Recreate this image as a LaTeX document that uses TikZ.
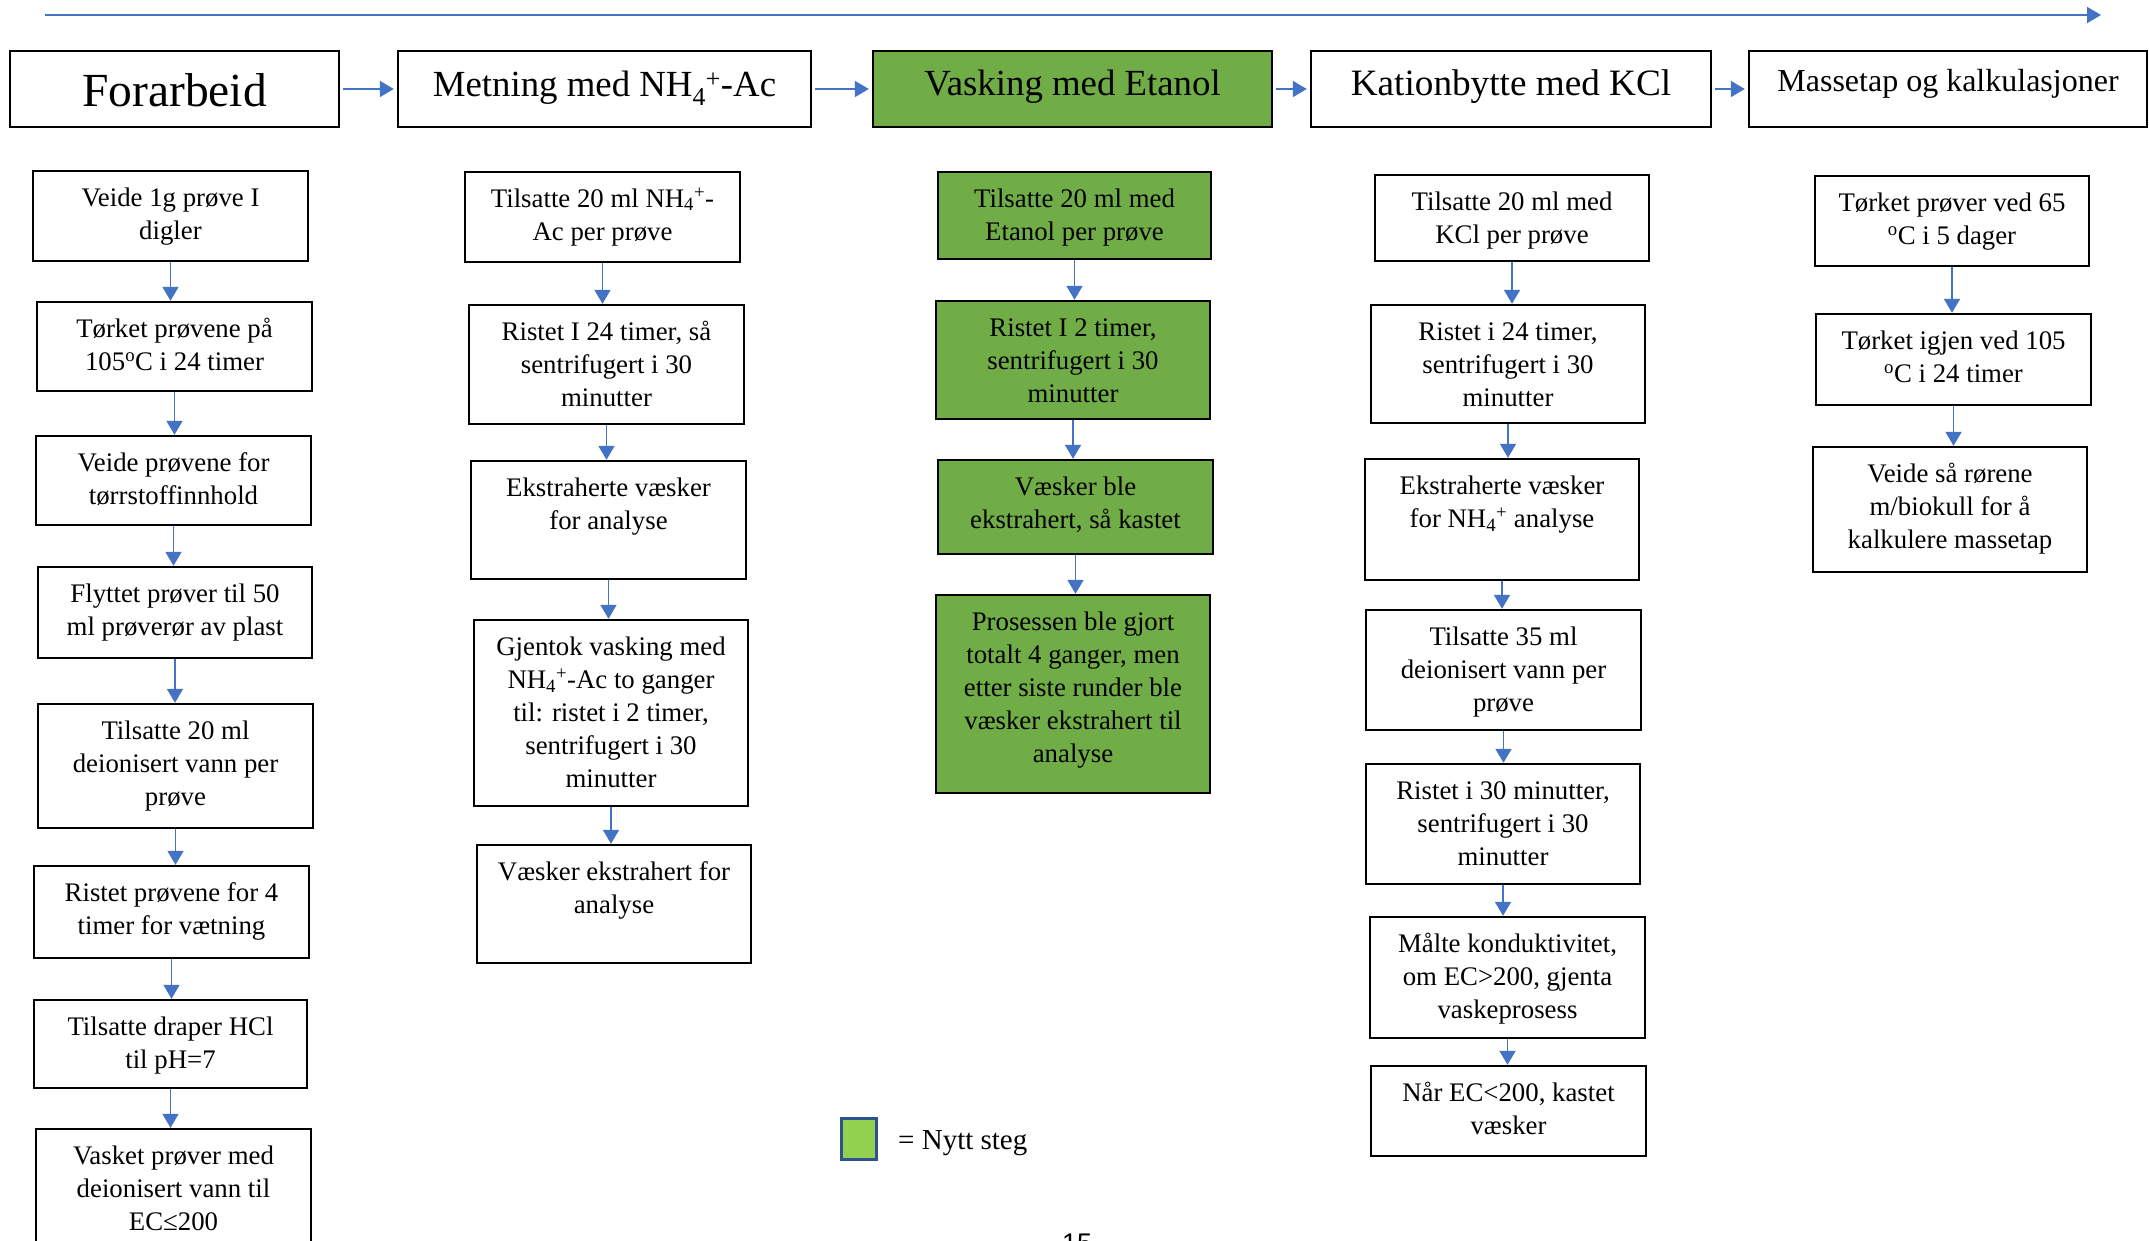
\documentclass[tikz,border=0pt]{standalone}
\usepackage{fontspec}
\setmainfont{Liberation Serif}
\newfontfamily\pgsans{Liberation Sans}
\usetikzlibrary{arrows.meta,fit}
\definecolor{arrowblue}{HTML}{4472C4}
\definecolor{stepgreen}{HTML}{70AD47}
\definecolor{leggreen}{HTML}{92D050}
\definecolor{legblue}{HTML}{2F528F}
\newcommand\stepnode[7]{%
  \node[boxst,#6,fit={(#2,#3) (#4,#5)}] (#1) {};
  \node[txt,anchor=north] (#1t) at ([yshift=-12.8pt]#1.north) {\strut #7};}
\newcommand\headnode[9]{%
  \node[boxst,#6,fit={(#2,#3) (#4,#5)}] (#1) {};
  \node[anchor=base,inner sep=0pt,font=\fontsize{#7}{#7}\selectfont] (#1t) at ({(#2+#4)/2},#8) {#9};}
\begin{document}
\begin{tikzpicture}[x=1pt,y=-1pt,
  boxst/.style={draw=black,line width=2.4pt,inner sep=0pt,rectangle},
  newstep/.style={fill=stepgreen},
  txt/.style={inner sep=0pt,align=center,font=\fontsize{26.8}{33.2}\selectfont},
  arr/.style={draw=arrowblue,line width=1.8pt,-{Triangle[length=14pt,width=16pt]}},
  harr/.style={arr,shorten <=3pt,shorten >=3pt}]
\useasboundingbox (0,0) rectangle (2149,1241);
\fill[white] (0,0) rectangle (2149,1241);
\clip (0,0) rectangle (2149,1241);

% top arrow
\coordinate (ts) at (45,15);
\coordinate (te) at (2101,15);
\draw[arr] (ts) -- (te);

% headers
\headnode{h1}{10}{51}{339}{127}{}{47.5}{107}{Forarbeid}
\headnode{h2}{398}{51}{811}{127}{}{36.8}{97}{Metning med NH\textsubscript{4}\textsuperscript{+}-Ac}
\headnode{h3}{873}{51}{1272}{127}{newstep}{36.8}{96}{Vasking med Etanol}
\headnode{h4}{1311}{51}{1711}{127}{}{37.2}{96}{Kationbytte med KCl}
\headnode{h5}{1749}{51}{2147}{127}{}{32}{92}{Massetap og kalkulasjoner}
\draw[harr] (h1.east) -- (h2.west);
\draw[harr] (h2.east) -- (h3.west);
\draw[harr] (h3.east) -- (h4.west);
\draw[harr] (h4.east) -- (h5.west);

% column 1
\stepnode{b1}{33}{171}{308}{261}{}{Veide 1g prøve I\\digler}
\stepnode{b2}{37}{302}{312}{391}{}{Tørket prøvene på\\105\textsuperscript{o}C i 24 timer}
\stepnode{b3}{36}{436}{311}{525}{}{Veide prøvene for\\tørrstoffinnhold}
\stepnode{b4}{38}{567}{312}{658}{}{Flyttet prøver til 50\\ml prøverør av plast}
\stepnode{b5}{38}{704}{313}{828}{}{Tilsatte 20 ml\\deionisert vann per\\prøve}
\stepnode{b6}{34}{866}{309}{958}{}{Ristet prøvene for 4\\timer for vætning}
\stepnode{b7}{34}{1000}{307}{1088}{}{Tilsatte draper HCl\\til pH=7}
\stepnode{b8}{36}{1129}{311}{1290}{}{Vasket prøver med\\deionisert vann til\\EC≤200}
\foreach \a/\b in {b1/b2,b2/b3,b3/b4,b4/b5,b5/b6,b6/b7,b7/b8}
  \draw[arr] (\a.south) -- (\a.south |- \b.north);

% column 2
\stepnode{c1}{465}{172}{740}{262}{}{Tilsatte 20 ml NH\textsubscript{4}\textsuperscript{+}-\\Ac per prøve}
\stepnode{c2}{469}{305}{744}{424}{}{Ristet I 24 timer, så\\sentrifugert i 30\\minutter}
\stepnode{c3}{471}{461}{746}{579}{}{Ekstraherte væsker\\for analyse}
\stepnode{c4}{474}{620}{748}{806}{}{Gjentok vasking med\\NH\textsubscript{4}\textsuperscript{+}-Ac to ganger\\til: ristet i 2 timer,\\sentrifugert i 30\\minutter}
\stepnode{c5}{477}{845}{751}{963}{}{Væsker ekstrahert for\\analyse}
\foreach \a/\b in {c1/c2,c2/c3,c3/c4,c4/c5}
  \draw[arr] (\a.south) -- (\a.south |- \b.north);

% column 3
\stepnode{g1}{938}{172}{1211}{259}{newstep}{Tilsatte 20 ml med\\Etanol per prøve}
\stepnode{g2}{936}{301}{1210}{419}{newstep}{Ristet I 2 timer,\\sentrifugert i 30\\minutter}
\stepnode{g3}{938}{460}{1213}{554}{newstep}{Væsker ble\\ekstrahert, så kastet}
\stepnode{g4}{936}{595}{1210}{793}{newstep}{Prosessen ble gjort\\totalt 4 ganger, men\\etter siste runder ble\\væsker ekstrahert til\\analyse}
\foreach \a/\b in {g1/g2,g2/g3,g3/g4}
  \draw[arr] (\a.south) -- (\a.south |- \b.north);

% column 4
\stepnode{k1}{1375}{175}{1649}{261}{}{Tilsatte 20 ml med\\KCl per prøve}
\stepnode{k2}{1371}{305}{1645}{423}{}{Ristet i 24 timer,\\sentrifugert i 30\\minutter}
\stepnode{k3}{1365}{459}{1639}{580}{}{Ekstraherte væsker\\for NH\textsubscript{4}\textsuperscript{+} analyse}
\stepnode{k4}{1366}{610}{1641}{730}{}{Tilsatte 35 ml\\deionisert vann per\\prøve}
\stepnode{k5}{1366}{764}{1640}{884}{}{Ristet i 30 minutter,\\sentrifugert i 30\\minutter}
\stepnode{k6}{1370}{917}{1645}{1038}{}{Målte konduktivitet,\\om EC>200, gjenta\\vaskeprosess}
\stepnode{k7}{1371}{1066}{1646}{1156}{}{Når EC<200, kastet\\væsker}
\foreach \a/\b in {k1/k2,k2/k3,k3/k4,k4/k5,k5/k6,k6/k7}
  \draw[arr] (\a.south) -- (\a.south |- \b.north);

% column 5
\stepnode{m1}{1815}{176}{2089}{266}{}{Tørket prøver ved 65\\\textsuperscript{o}C i 5 dager}
\stepnode{m2}{1816}{314}{2091}{405}{}{Tørket igjen ved 105\\\textsuperscript{o}C i 24 timer}
\stepnode{m3}{1813}{447}{2087}{572}{}{Veide så rørene\\m/biokull for å\\kalkulere massetap}
\foreach \a/\b in {m1/m2,m2/m3}
  \draw[arr] (\a.south) -- (\a.south |- \b.north);

% legend
\node[draw=legblue,line width=3pt,fill=leggreen,inner sep=0pt,fit={(841,1118) (876,1159)}] (leg) {};
\node[anchor=base west,inner sep=0pt,font=\fontsize{29}{29}\selectfont] (legt) at (898,1149) {= Nytt steg};

% page number (cut off)
\node[anchor=north west,inner sep=0pt,font=\pgsans\fontsize{27}{27}\selectfont] (pg) at (1062,1234) {15};
\end{tikzpicture}
\end{document}
